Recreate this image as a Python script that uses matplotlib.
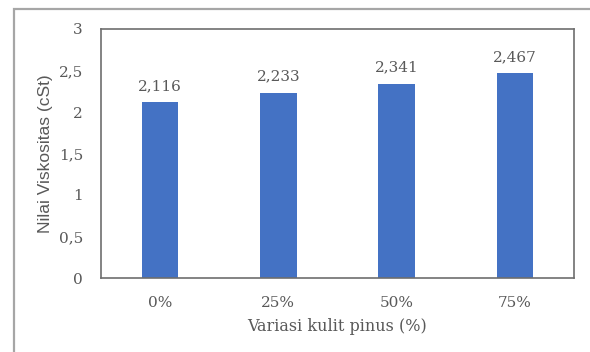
import matplotlib
matplotlib.use("Agg")
import matplotlib.pyplot as plt
from matplotlib.patches import Rectangle

categories = ["0%", "25%", "50%", "75%"]
values = [2.116, 2.233, 2.341, 2.467]
yticks = [0, 0.5, 1, 1.5, 2, 2.5, 3]
ytick_labels = ["0", "0,5", "1", "1,5", "2", "2,5", "3"]

plt.rcParams['font.family'] = ['DejaVu Serif']
txt = '#595959'

fig = plt.figure(figsize=(5.9, 3.52), dpi=100)
fig.patch.set_facecolor('white')
# outer frame (partially cropped)
fig.patches.append(Rectangle((14/590, -0.05), 1.2, 1 - 9/352 + 0.05,
                             transform=fig.transFigure, fill=False,
                             edgecolor='#a6a6a6', linewidth=1.6, zorder=0))

ax = fig.add_axes([101/590, 1 - 278/352, (574 - 101)/590, (278 - 29)/352])
x = range(len(categories))
bars = ax.bar(x, values, width=0.31, color='#4472C4', zorder=2)
for xi, v in zip(x, values):
    ax.text(xi, v + 0.11, f"{v:.3f}".replace('.', ','), ha='center', va='bottom',
            fontsize=11, color=txt)

ax.set_xlim(-0.5, len(categories) - 0.5)
ax.set_ylim(0, 3)
ax.set_yticks(yticks)
ax.set_yticklabels(ytick_labels)
ax.set_xticks(list(x))
ax.set_xticklabels(categories)
ax.tick_params(axis='y', length=0, pad=13, labelsize=11, labelcolor=txt)
ax.tick_params(axis='x', length=0, pad=13, labelsize=11, labelcolor=txt)
for s in ax.spines.values():
    s.set_color('#6e6e6e')
    s.set_linewidth(1.2)
ax.set_xlabel("Variasi kulit pinus (%)", fontsize=11.5, color=txt, labelpad=6)
ax.set_ylabel("Nilai Viskositas (cSt)", fontsize=12.5, color=txt, labelpad=4,
              family='Liberation Sans')

fig.savefig("out.png", dpi=100, facecolor='white')
